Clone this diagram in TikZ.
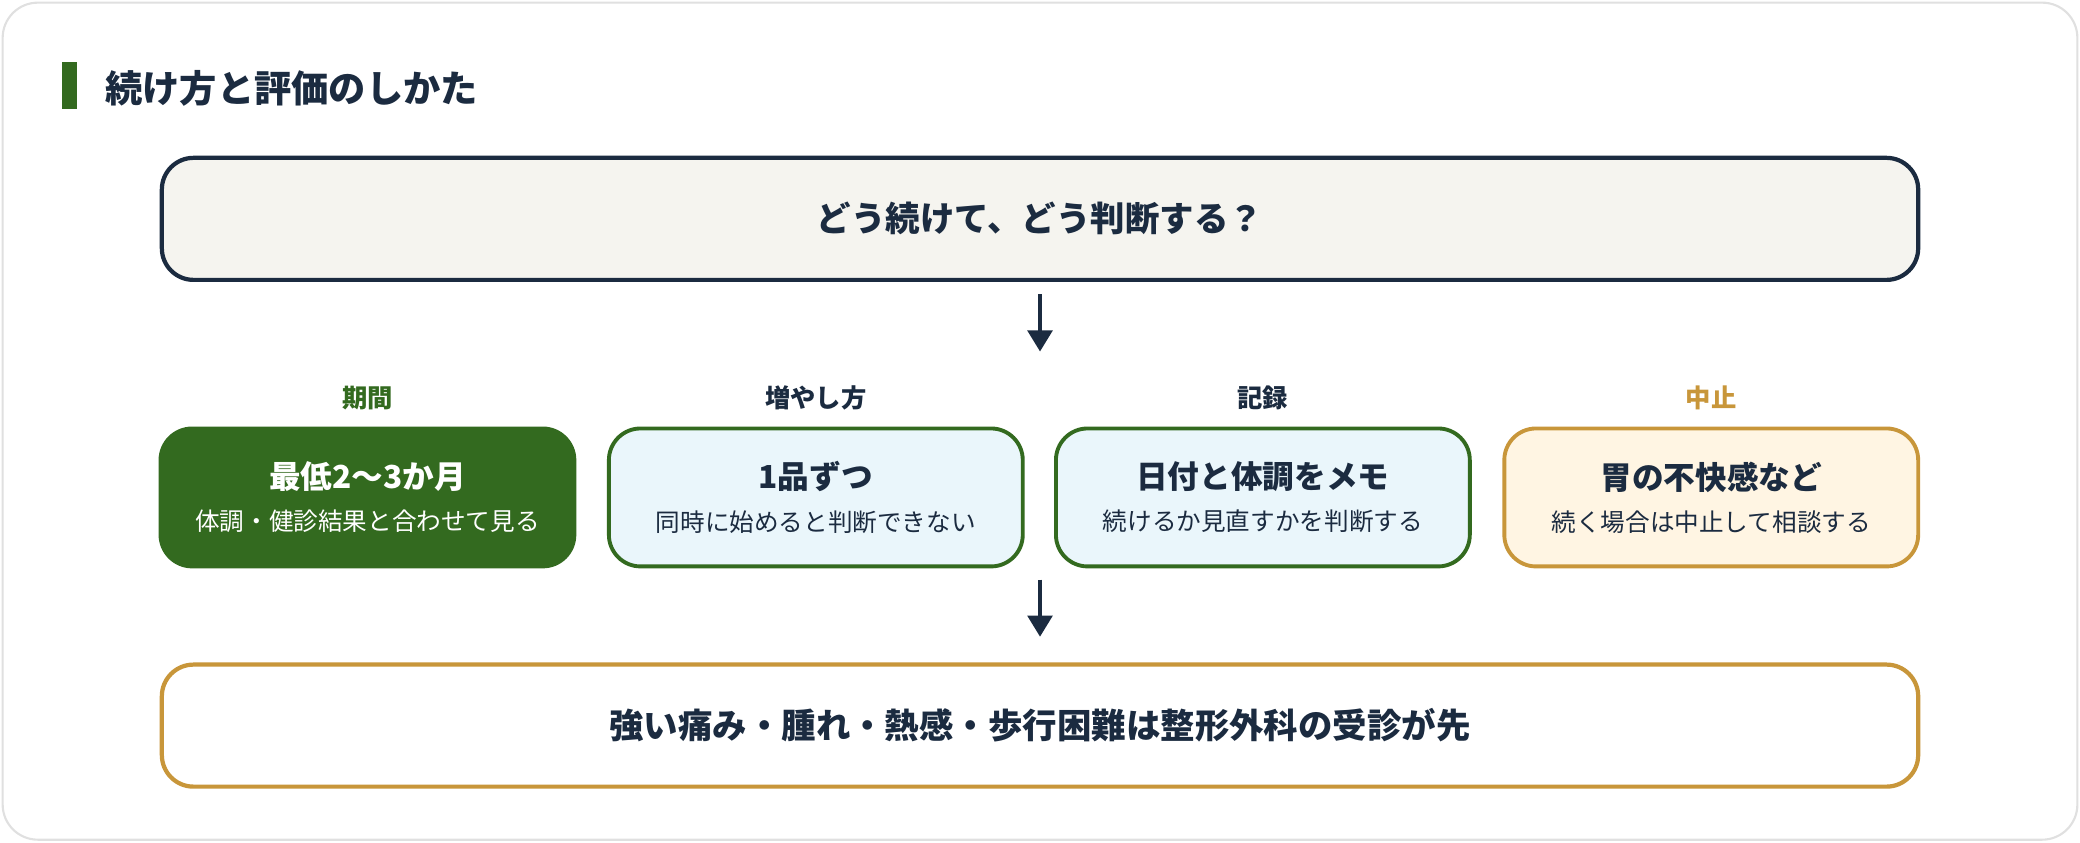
\documentclass[tikz,border=0pt]{standalone}
\usepackage{fontspec}
\setmainfont{Noto Sans CJK JP}
\usetikzlibrary{positioning,arrows.meta}
\definecolor{navy}{HTML}{1B2B40}
\definecolor{leaf}{HTML}{336A1F}
\definecolor{gold}{HTML}{C8963A}
\definecolor{paper}{HTML}{F5F4EF}
\definecolor{sky}{HTML}{EAF6FB}
\definecolor{cream}{HTML}{FFF5E3}
\tikzset{
  wide/.style={draw=navy, line width=1.2pt, rounded corners=9pt, minimum width=1324*0.013265cm, minimum height=92*0.013265cm, font=\fontsize{9.8}{12}\selectfont\bfseries, text=navy},
  stagebox/.style={draw=leaf, line width=1.1pt, rounded corners=9pt, minimum width=312*0.013265cm, minimum height=104*0.013265cm, align=center, text=navy},
  head/.style={font=\fontsize{7.2}{9}\selectfont\bfseries},
  flow/.style={-{Triangle[length=6pt,width=7pt]}, line width=1.1pt, draw=navy},
}
\newcommand{\stepmain}[1]{{\fontsize{9}{13}\selectfont\bfseries #1}}
\newcommand{\stepsub}[1]{{\fontsize{7}{11}\selectfont #1}}
\begin{document}
\begin{tikzpicture}[x=0.013265cm, y=-0.013265cm]
        \useasboundingbox (0,0) rectangle (1568,635);
        \draw[draw=black!12, fill=white, rounded corners=10pt, line width=0.6pt] (2,2) rectangle (1566,633);

        % title
        \fill[leaf] (47,47) rectangle (58,82);
        \node[anchor=west, text=navy, font=\fontsize{10.6}{13}\selectfont\bfseries] (title) at (70,67) {続け方と評価のしかた};

        % question
        \node[wide, fill=paper] (ask) at (784,165) {どう続けて、どう判断する？};

        % four steps
        \node[stagebox, fill=leaf, text=white] (term) at (277,375) {\stepmain{最低2〜3か月}\\\stepsub{体調・健診結果と合わせて見る}};
        \node[stagebox, fill=sky] (add) at (615,375) {\stepmain{1品ずつ}\\\stepsub{同時に始めると判断できない}};
        \node[stagebox, fill=sky] (memo) at (952,375) {\stepmain{日付と体調をメモ}\\\stepsub{続けるか見直すかを判断する}};
        \node[stagebox, fill=cream, draw=gold] (stop) at (1290,375) {\stepmain{胃の不快感など}\\\stepsub{続く場合は中止して相談する}};

        \node[head, text=leaf] (termh) at (277,300) {期間};
        \node[head, text=navy] (addh) at (615,300) {増やし方};
        \node[head, text=navy] (memoh) at (952,300) {記録};
        \node[head, text=gold] (stoph) at (1290,300) {中止};

        % warning
        \node[wide, draw=gold, fill=white] (warn) at (784,547) {強い痛み・腫れ・熱感・歩行困難は整形外科の受診が先};

        \coordinate (a1) at (784,222);
        \coordinate (a2) at (784,265);
        \coordinate (b1) at (784,437);
        \coordinate (b2) at (784,480);
        \draw[flow] (a1) -- (a2);
        \draw[flow] (b1) -- (b2);
\end{tikzpicture}
\end{document}
